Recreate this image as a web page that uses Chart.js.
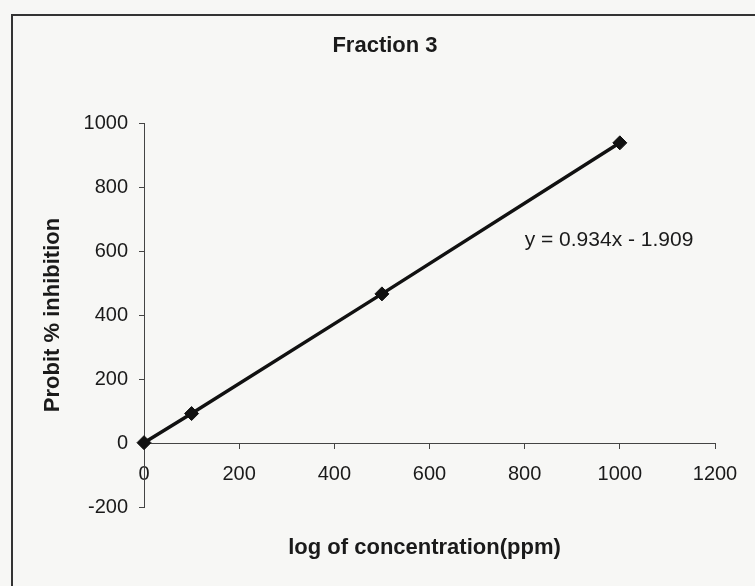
<!DOCTYPE html>
<html>
<head>
<meta charset="utf-8">
<script src="https://cdn.jsdelivr.net/npm/chart.js@4.4.1/dist/chart.umd.min.js"></script>
<style>
  html, body { margin: 0; padding: 0; background: #f7f7f5; overflow: hidden; }
  #frame { position: absolute; left: 11px; top: 14px; width: 800px; height: 700px;
           border-left: 2px solid #333; border-top: 2px solid #333; }
  #chart { position: absolute; left: 0; top: 0; }
</style>
</head>
<body>
<div id="frame"></div>
<canvas id="chart" width="755" height="586"></canvas>
<script>
// data
const concentration = [0, 100, 500, 1000];
const probit = [1, 92, 466, 938];
const xTicks = [0, 200, 400, 600, 800, 1000, 1200];
const yTicks = [-200, 0, 200, 400, 600, 800, 1000];

const chartTitle = 'Fraction 3';
const xTitle = 'log of concentration(ppm)';
const yTitle = 'Probit % inhibition';
const equation = 'y = 0.934x - 1.909';
const equationAt = { x: 800, y: 634 };

const FONT = '"Liberation Sans", Arial, sans-serif';
const INK = '#1a1a1a';

// axis titles + trendline equation
const textPlugin = {
    id: 'axisText',
    afterDraw(chart) {
        const { ctx, chartArea, scales } = chart;
        ctx.save();
        ctx.fillStyle = INK;
        ctx.font = 'bold 22px ' + FONT;
        ctx.textAlign = 'center';
        ctx.textBaseline = 'middle';
        ctx.fillText(xTitle, (chartArea.left + chartArea.right) / 2 - 5, chartArea.bottom + 41);
        ctx.translate(chartArea.left - 91, (chartArea.top + chartArea.bottom) / 2);
        ctx.rotate(-Math.PI / 2);
        ctx.fillText(yTitle, 0, 0);
        ctx.restore();

        ctx.save();
        ctx.fillStyle = INK;
        ctx.font = '21px ' + FONT;
        ctx.textAlign = 'left';
        ctx.textBaseline = 'middle';
        ctx.fillText(equation, scales.x.getPixelForValue(equationAt.x), scales.y.getPixelForValue(equationAt.y));
        ctx.restore();
    }
};

const ctx = document.getElementById('chart').getContext('2d');
new Chart(ctx, {
    type: 'scatter',
    data: {
        datasets: [{
            label: 'Fraction 3',
            data: concentration.map((c, i) => ({ x: c, y: probit[i] })),
            showLine: true,
            borderColor: '#111',
            backgroundColor: '#111',
            borderWidth: 3.5,
            pointStyle: 'rectRot',
            pointRadius: 7,
            pointBorderWidth: 1,
            clip: false
        }]
    },
    options: {
        responsive: false,
        animation: false,
        layout: { padding: { left: 55, right: 40, top: 20, bottom: 79 } },
        plugins: {
            legend: { display: false },
            tooltip: { enabled: false },
            title: {
                display: true,
                text: chartTitle,
                color: INK,
                font: { family: FONT, size: 22, weight: 'bold' },
                padding: { top: 13, bottom: 63.6 }
            }
        },
        scales: {
            x: {
                type: 'linear',
                position: { y: 0 },
                min: 0,
                max: 1200,
                afterBuildTicks: s => { s.ticks = xTicks.map(v => ({ value: v })); },
                grid: { drawOnChartArea: false, tickLength: 5, color: '#444' },
                border: { color: '#444', width: 1 },
                ticks: { color: INK, font: { family: FONT, size: 20 }, padding: 14, maxRotation: 0, autoSkip: false,
                         callback: v => String(v) }
            },
            y: {
                type: 'linear',
                position: 'left',
                min: -200,
                max: 1000,
                afterBuildTicks: s => { s.ticks = yTicks.map(v => ({ value: v })); },
                afterFit: s => { s.width = 89; },
                grid: { drawOnChartArea: false, tickLength: 5, color: '#444' },
                border: { color: '#444', width: 1 },
                ticks: { color: INK, font: { family: FONT, size: 20 }, padding: 11,
                         callback: v => String(v) }
            }
        }
    },
    plugins: [textPlugin]
});
</script>
</body>
</html>
